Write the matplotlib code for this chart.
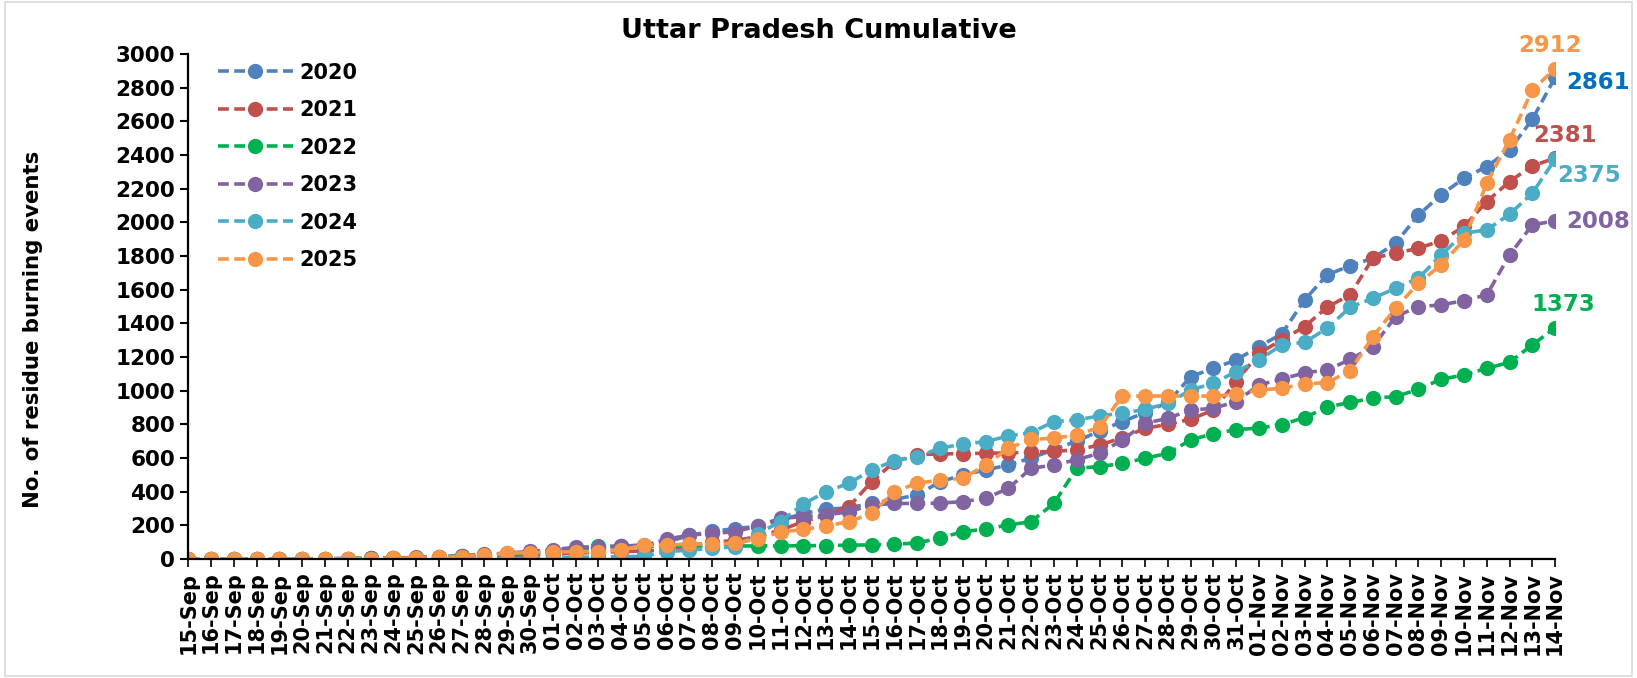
import matplotlib
matplotlib.use("Agg")
import matplotlib.pyplot as plt
from matplotlib.patches import Rectangle

plt.rcParams["font.family"] = ["DejaVu Sans"]
plt.rcParams["font.weight"] = "bold"

# 15-Sep .. 14-Nov
dates = ([f"{d}-Sep" for d in range(15, 31)]
         + [f"{d:02d}-Oct" for d in range(1, 32)]
         + [f"{d:02d}-Nov" for d in range(1, 15)])

y2020 = [0, 0, 0, 0, 0, 1, 2, 3, 4, 5, 8, 12, 18, 22, 30, 38,
         48, 58, 68, 75, 85, 100, 140, 165, 180, 195, 230,
         271, 295, 305, 330, 355, 380, 459, 499, 529, 558, 600, 650, 700,
         760, 816, 870, 930, 1083, 1133, 1182, 1262, 1337, 1539, 1688, 1742,
         1787, 1876, 2044, 2163, 2262, 2331, 2430, 2612, 2861]
y2021 = [0, 0, 0, 0, 0, 0, 1, 2, 3, 4, 6, 8, 12, 15, 20, 25,
         30, 35, 40, 44, 48, 55, 80, 100, 110, 133, 172,
         222, 260, 311, 459, 578, 620, 624, 626, 628, 630, 634, 640, 648,
         677, 720, 776, 800, 830, 885, 1054, 1222, 1301, 1380, 1497, 1569,
         1787, 1816, 1846, 1891, 1975, 2123, 2242, 2335, 2381]
y2022 = [0, 0, 0, 0, 0, 0, 1, 2, 4, 6, 8, 12, 16, 20, 28, 38,
         50, 62, 75, 76, 76, 76, 76, 77, 77, 78, 78,
         79, 80, 82, 84, 88, 95, 125, 162, 178, 202, 222, 331, 539,
         549, 568, 598, 628, 707, 745, 768, 778, 798, 840, 903, 930,
         955, 965, 1008, 1068, 1093, 1133, 1168, 1272, 1373]
y2023 = [0, 0, 0, 0, 0, 0, 1, 2, 4, 6, 9, 14, 20, 28, 35, 45,
         55, 70, 73, 75, 80, 117, 143, 152, 162, 196, 242,
         251, 261, 281, 321, 330, 330, 332, 341, 360, 420, 539, 558, 590,
         628, 707, 806, 836, 885, 895, 935, 1034, 1068, 1106, 1123, 1185,
         1262, 1440, 1499, 1509, 1535, 1569, 1806, 1985, 2008]
y2024 = [0, 0, 0, 0, 0, 0, 0, 0, 0, 0, 0, 0, 1, 2, 3, 5,
         8, 10, 12, 14, 16, 44, 53, 63, 73, 150, 222,
         327, 400, 450, 529, 584, 608, 658, 683, 697, 731, 751, 816, 826,
         850, 866, 889, 925, 1004, 1044, 1113, 1182, 1272, 1287, 1371, 1495,
         1549, 1608, 1668, 1806, 1935, 1955, 2048, 2173, 2375]
y2025 = [0, 0, 0, 0, 0, 0, 1, 2, 3, 4, 6, 10, 14, 24, 34, 38,
         40, 44, 44, 53, 83, 83, 89, 89, 93, 120, 160,
         176, 196, 222, 271, 400, 450, 469, 479, 558, 658, 711, 717, 737,
         782, 968, 968, 968, 968, 968, 978, 1004, 1014, 1040, 1048, 1118,
         1321, 1490, 1638, 1747, 1895, 2232, 2490, 2787, 2912]

years = ["2020", "2021", "2022", "2023", "2024", "2025"]
series = [y2020, y2021, y2022, y2023, y2024, y2025]
colors = ["#4F81BD", "#C0504D", "#00B050", "#8064A2", "#4BACC6", "#F79646"]
label_colors = ["#0070C0", "#C0504D", "#00B050", "#8064A2", "#4BACC6", "#F79646"]
# end-label offsets in pixels (dx, dy) and alignment
label_pos = [(11, -5, "left"), (10, 23, "center"), (8, 23, "center"),
             (11, -1, "left"), (34, -16, "center"), (-5, 23, "center")]

fig = plt.figure(figsize=(16.37, 6.78), dpi=100)
ax = fig.add_axes([0.115, 0.1755, 0.835, 0.745])

x = list(range(len(dates)))
for yr, ys, c in zip(years, series, colors):
    ax.plot(x, ys, color=c, lw=2.6, ls=(0, (3, 1.5)), marker="o",
            markersize=11, markeredgewidth=0, label=yr)

for ys, c, (dx, dy, ha) in zip(series, label_colors, label_pos):
    ax.annotate(f"{ys[-1]}", xy=(x[-1], ys[-1]), xytext=(dx, dy),
                textcoords="offset pixels", ha=ha, va="center",
                color=c, fontsize=16.5, fontweight="bold", annotation_clip=False)

ax.set_xlim(0, len(dates) - 1)
ax.set_ylim(0, 3000)
ax.set_yticks(range(0, 3001, 200))
ax.set_xticks(x)
ax.set_xticklabels(dates, rotation=90, fontsize=15, fontweight="bold")
ax.tick_params(axis="y", labelsize=15.5, direction="out", length=6, width=1.5)
ax.tick_params(axis="x", direction="out", length=6, width=1.2, pad=3)
for lab in ax.get_yticklabels():
    lab.set_fontweight("bold")
for s in ["top", "right"]:
    ax.spines[s].set_visible(False)
for s in ["left", "bottom"]:
    ax.spines[s].set_linewidth(1.6)

ax.set_ylabel("No. of residue burning events", fontsize=15.3, fontweight="bold")
ax.yaxis.set_label_coords(-0.106, 0.455)
fig.text(0.5, 0.955, "Uttar Pradesh Cumulative", ha="center", va="center",
         fontsize=19.5, fontweight="bold")

ax.legend(loc="upper left", bbox_to_anchor=(0.008, 1.02), frameon=False,
          handlelength=3.6, handletextpad=0.3, labelspacing=0.84,
          prop={"weight": "bold", "size": 15})

fig.patches.append(Rectangle((0.003, 0.003), 0.994, 0.994, transform=fig.transFigure,
                             fill=False, edgecolor="#d9d9d9", lw=1.2))

fig.savefig("out.png", dpi=100)
